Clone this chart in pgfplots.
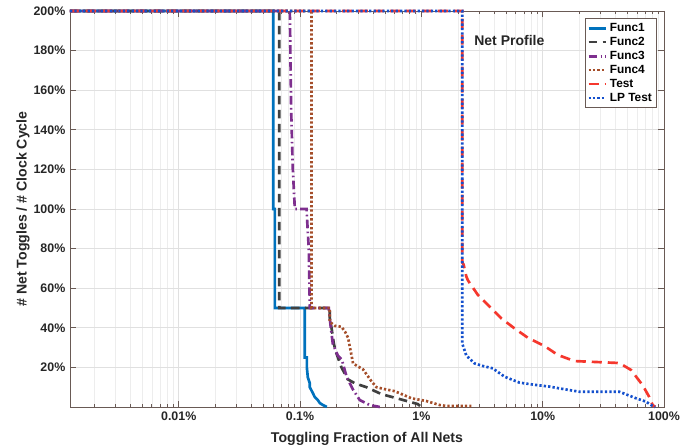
\documentclass[border=0pt]{standalone}
\usepackage{fontspec}
\setmainfont{Liberation Sans}
\usepackage{pgfplots}
\pgfplotsset{compat=1.18}
\definecolor{cF1}{RGB}{0,114,189}
\definecolor{cF2}{RGB}{64,64,64}
\definecolor{cF3}{RGB}{126,47,142}
\definecolor{cF4}{RGB}{165,78,42}
\definecolor{cT}{RGB}{245,55,45}
\definecolor{cLP}{RGB}{20,80,205}
\definecolor{axc}{RGB}{105,90,85}
\begin{document}
\begin{tikzpicture}
\useasboundingbox (-52.5pt,-30.75pt) rectangle (469.5pt,305.25pt);
\begin{axis}[
  at={(0,0)}, anchor=south west,
  width=445.5pt, height=297pt, scale only axis,
  xmode=log, xmin=0.00127, xmax=100, ymin=0, ymax=200,
  clip=false,
  axis line style={draw=axc, line width=0.6pt},
  xtick={0.01,0.1,1,10,100},
  xticklabels={0.01\%,0.1\%,1\%,10\%,100\%},
  minor xtick={0.002,0.003,0.004,0.005,0.006,0.007,0.008,0.009,
               0.02,0.03,0.04,0.05,0.06,0.07,0.08,0.09,
               0.2,0.3,0.4,0.5,0.6,0.7,0.8,0.9,
               2,3,4,5,6,7,8,9,20,30,40,50,60,70,80,90},
  ytick={20,40,60,80,100,120,140,160,180,200},
  yticklabels={20\%,40\%,60\%,80\%,100\%,120\%,140\%,160\%,180\%,200\%},
  tick align=inside, xtick pos=both, ytick pos=both,
  major tick length=4.5pt, minor tick length=2.5pt,
  every tick/.style={draw=axc, line width=0.5pt},
  xmajorgrids, ymajorgrids, xminorgrids,
  major grid style={draw=black!12, line width=0.5pt},
  minor grid style={draw=black!7, line width=0.4pt},
  tick label style={font=\bfseries\fontsize{9.3}{11}\selectfont, text=black!85},
  label style={font=\bfseries\fontsize{10.6}{12}\selectfont, text=black!85},
  xlabel={Toggling Fraction of All Nets},
  ylabel={\# Net Toggles / \# Clock Cycle},
  xlabel style={at={(axis description cs:0.5,-0.0808)}, anchor=center},
  ylabel style={at={(axis description cs:-0.079,0.5)}, anchor=center, rotate=0},
  legend style={at={(rel axis cs:0.988,0.982)}, anchor=north east,
    font=\bfseries\fontsize{8.9}{10}\selectfont, draw=axc, line width=0.5pt,
    inner sep=1.5pt, row sep=-1.2pt, fill=white},
  legend cell align=left,
  legend image code/.code={\draw[#1] (0pt,0pt) -- (13pt,0pt);},
  every axis plot/.append style={line width=2pt},
]
\addplot[cF1, solid] coordinates {
(0.00127,200)(0.0601,200)(0.0601,100)(0.0620,100)(0.0620,50)(0.1095,50)(0.1095,25)
(0.1138,25)(0.1138,20)(0.1159,15)(0.1204,12)(0.1204,10)(0.1275,7)(0.1323,5)
(0.1401,3.5)(0.1455,2)(0.1541,1)(0.1662,0)};
\addlegendentry{Func1}
\addplot[cF2, dash pattern=on 6.5pt off 4pt] coordinates {
(0.00127,200)(0.0673,200)(0.0673,50)(0.1759,50)(0.1759,45)(0.1817,40)(0.1900,32)
(0.1971,28)(0.2196,20)(0.2473,14)(0.2825,12)(0.3527,10)(0.4687,6.5)(0.663,4)
(0.932,1.5)(1.0,0)};
\addlegendentry{Func2}
\addplot[cF3, dash pattern=on 6.5pt off 2.5pt on 1.2pt off 2.5pt] coordinates {
(0.00127,200)(0.0824,200)(0.0845,150)(0.0872,120)(0.0906,100)(0.1131,100)(0.1180,80)
(0.1204,50)(0.1726,50)(0.1793,40)(0.1862,32)(0.2048,26)(0.2208,24)(0.2427,15)
(0.2720,9)(0.3105,3.5)(0.3754,1)(0.4537,0)};
\addlegendentry{Func3}
\addplot[cF4, dash pattern=on 1.7pt off 1.6pt] coordinates {
(0.00127,200)(0.1244,200)(0.1244,50)(0.1759,50)(0.1759,43)(0.1934,41)(0.2196,40.5)
(0.2350,38)(0.2488,35)(0.2619,28)(0.2735,22)(0.3000,20.5)(0.3307,19)(0.3877,13)
(0.4262,10)(0.4989,9)(0.6031,8)(0.8275,4.4)(1.0994,3)(1.4147,1)(1.606,0.5)(2.579,0.5)};
\addlegendentry{Func4}
\addplot[cT, dash pattern=on 7.5pt off 4.5pt] coordinates {
(0.00127,200)(2.175,200)(2.175,73)(2.229,72)(2.346,66)(2.418,64)(2.923,56.6)
(3.649,50.7)(4.553,44.8)(5.86,39.7)(7.54,35)(10.35,30.8)(13.31,26.3)(18.27,23.2)
(42.87,22.2)(53.5,18.7)(66.66,11)(75.7,5)(80.6,1)(84.8,0)};
\addlegendentry{Test}
\addplot[cLP, dash pattern=on 1.7pt off 1.6pt] coordinates {
(0.00127,200)(2.175,200)(2.175,32)(2.346,26)(2.746,22)(3.214,20.7)(3.885,19.5)
(4.849,15.3)(6.442,12.3)(8.843,11.1)(11.38,10.3)(13.75,9.4)(20.09,7.7)(42.87,7.7)
(58.84,4.4)(71.1,2.7)(80.6,0.5)(84.8,0)};
\addlegendentry{LP Test}
\node[anchor=west, font=\bfseries\fontsize{10.5}{12}\selectfont, text=black!85]
  at (axis cs:2.5,185) {Net Profile};
\end{axis}
\end{tikzpicture}
\end{document}
